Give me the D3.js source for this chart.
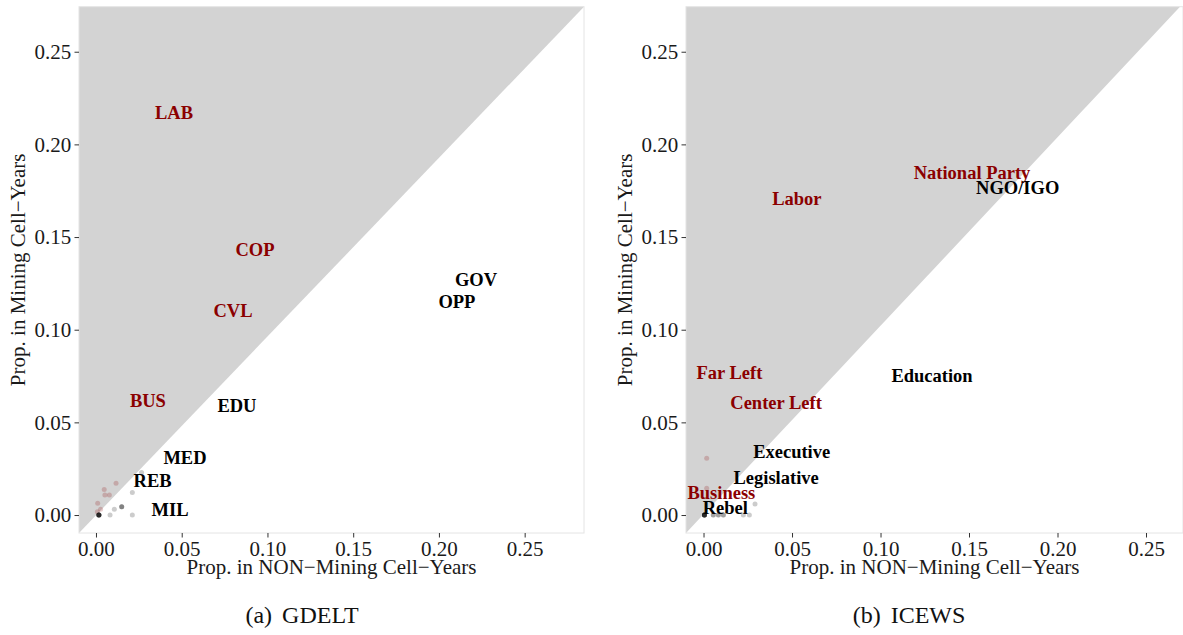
<!DOCTYPE html>
<html>
<head>
<meta charset="utf-8">
<script src="https://cdn.jsdelivr.net/npm/d3@7"></script>
<style>
  body { margin: 0; background: #fff; }
  svg { display: block; }
  text { font-family: "Liberation Serif", "Times New Roman", serif; }
</style>
</head>
<body>
<svg id="chart" width="1183" height="635"></svg>
<script>
// Shared axis ticks
const tickValues = [0, 0.05, 0.10, 0.15, 0.20, 0.25];
const tickLabels = ["0.00", "0.05", "0.10", "0.15", "0.20", "0.25"];

// GDELT: labelled actor types (share of events in non-mining vs mining cell-years)
const gdeltActors     = ["LAB", "COP", "CVL", "BUS", "EDU", "MED", "REB", "MIL", "GOV", "OPP"];
const gdeltNonMining  = [0.0455, 0.0927, 0.0799, 0.0303, 0.0822, 0.0519, 0.0330, 0.0432, 0.2216, 0.2105];
const gdeltMining     = [0.2169, 0.1430, 0.1101, 0.0615, 0.0588, 0.0306, 0.0183, 0.0027, 0.1268, 0.1150];
// GDELT: remaining (unlabelled) actor types
const gdeltOtherNonMining = [0.0048, 0.0078, 0.0052, 0.0117, 0.0010, 0.0027, 0.0008,
                             0.0266, 0.0212, 0.0150, 0.0150, 0.0150, 0.0107, 0.0082, 0.0212,
                             0.0017, 0.0017, 0.0017, 0.0017, 0.0017, 0.0017, 0.0017, 0.0017];
const gdeltOtherMining    = [0.0138, 0.0108, 0.0108, 0.0171, 0.0063, 0.0031, 0.0018,
                             0.0230, 0.0122, 0.0045, 0.0045, 0.0045, 0.0031, 0.0000, 0.0000,
                             0.0000, 0.0000, 0.0000, 0.0000, 0.0000, 0.0000, 0.0000, 0.0000];

// ICEWS: labelled actor types
const icewsActors     = ["Labor", "National Party", "NGO/IGO", "Far Left", "Center Left", "Education",
                         "Executive", "Legislative", "Business", "Rebel"];
const icewsNonMining  = [0.0527, 0.1517, 0.1775, 0.0146, 0.0410, 0.1291, 0.0498, 0.0410, 0.0101, 0.0123];
const icewsMining     = [0.1704, 0.1846, 0.1766, 0.0765, 0.0606, 0.0750, 0.0342, 0.0198, 0.0120, 0.0036];
// ICEWS: remaining (unlabelled) actor types
const icewsOtherNonMining = [0.0018, 0.0018, 0.0291, 0.0055, 0.0055, 0.0084, 0.0084, 0.0112, 0.0112,
                             0.0225, 0.0259, 0.0005, 0.0005, 0.0005, 0.0005, 0.0005, 0.0005, 0.0005, 0.0005];
const icewsOtherMining    = [0.0306, 0.0144, 0.0059, 0.0000, 0.0000, 0.0000, 0.0000, 0.0000, 0.0000,
                             0.0000, 0.0000, 0.0000, 0.0000, 0.0000, 0.0000, 0.0000, 0.0000, 0.0000, 0.0000];

const RED = "#8B0000";
const svg = d3.select("#chart");

function drawPanel(cfg) {
  const x = d3.scaleLinear().domain(cfg.xDomain).range([cfg.left, cfg.right]);
  const y = d3.scaleLinear().domain(cfg.yDomain).range([cfg.bottom, cfg.top]);
  const g = svg.append("g");

  // shaded region above the diagonal (more frequent in mining cells)
  const tri = [[cfg.xDomain[0], cfg.yDomain[0]], [cfg.xDomain[0], cfg.yDomain[1]], [cfg.diagTopX, cfg.yDomain[1]]];
  g.append("path")
    .attr("d", d3.line().x(d => x(d[0])).y(d => y(d[1]))(tri) + "Z")
    .attr("fill", "#d3d3d3");

  // panel border
  g.append("rect")
    .attr("x", cfg.left).attr("y", cfg.top)
    .attr("width", cfg.right - cfg.left).attr("height", cfg.bottom - cfg.top)
    .attr("fill", "none").attr("stroke", "#e4e4e4").attr("stroke-width", 1);

  // unlabelled actor types as translucent points
  const others = cfg.otherX.map((v, i) => ({ x: v, y: cfg.otherY[i] }));
  g.append("g").selectAll("circle").data(others).join("circle")
    .attr("cx", d => x(d.x)).attr("cy", d => y(d.y)).attr("r", 2.5)
    .attr("fill", d => d.y > d.x ? RED : "#000")
    .attr("fill-opacity", 0.2);

  // labelled actor types
  const actors = cfg.names.map((n, i) => ({ name: n, x: cfg.valX[i], y: cfg.valY[i] }));
  g.append("g").selectAll("text").data(actors).join("text")
    .attr("x", d => x(d.x)).attr("y", d => y(d.y))
    .attr("text-anchor", "middle").attr("dominant-baseline", "central")
    .attr("font-weight", "bold").attr("font-size", 18.5)
    .attr("fill", d => d.y > d.x ? RED : "#000")
    .text(d => d.name);

  // axes
  const fmt = (d, i) => tickLabels[i];
  const xa = g.append("g").attr("transform", `translate(0,${cfg.bottom})`)
    .call(d3.axisBottom(x).tickValues(tickValues).tickFormat(fmt).tickSize(4.5).tickPadding(3.8));
  const ya = g.append("g").attr("transform", `translate(${cfg.left},0)`)
    .call(d3.axisLeft(y).tickValues(tickValues).tickFormat(fmt).tickSize(4.5).tickPadding(3.3));
  [xa, ya].forEach(a => {
    a.select(".domain").remove();
    a.selectAll("line").attr("stroke", "#333");
    a.selectAll("text").attr("font-size", 21).attr("fill", "#1a1a1a")
      .attr("font-family", "'Liberation Serif', serif");
  });

  // axis titles
  g.append("text")
    .attr("x", (cfg.left + cfg.right) / 2).attr("y", 573.5)
    .attr("text-anchor", "middle").attr("font-size", 21).attr("fill", "#1a1a1a")
    .text("Prop. in NON\u2212Mining Cell\u2212Years");
  g.append("text")
    .attr("transform", `translate(${cfg.yTitleX},${(cfg.top + cfg.bottom) / 2}) rotate(-90)`)
    .attr("text-anchor", "middle").attr("font-size", 21).attr("fill", "#1a1a1a")
    .text("Prop. in Mining Cell\u2212Years");

  // subfigure caption
  const cap = g.append("text")
    .attr("x", cfg.captionX).attr("y", 623)
    .attr("text-anchor", "middle").attr("font-size", 24).attr("fill", "#111");
  cap.append("tspan").text(cfg.captionTag);
  cap.append("tspan").attr("dx", 10).text(cfg.captionName);
}

drawPanel({
  left: 79, right: 584, top: 6.7, bottom: 533,
  xDomain: [-0.0099, 0.2846], yDomain: [-0.0097, 0.2743], diagTopX: 0.2846,
  names: gdeltActors, valX: gdeltNonMining, valY: gdeltMining,
  otherX: gdeltOtherNonMining, otherY: gdeltOtherMining,
  yTitleX: 25, captionX: 302, captionTag: "(a)", captionName: "GDELT"
});

drawPanel({
  left: 686, right: 1183, top: 6.7, bottom: 533,
  xDomain: [-0.0099, 0.2709], yDomain: [-0.0097, 0.2743], diagTopX: 0.2692,
  names: icewsActors, valX: icewsNonMining, valY: icewsMining,
  otherX: icewsOtherNonMining, otherY: icewsOtherMining,
  yTitleX: 632, captionX: 909, captionTag: "(b)", captionName: "ICEWS"
});
</script>
</body>
</html>
